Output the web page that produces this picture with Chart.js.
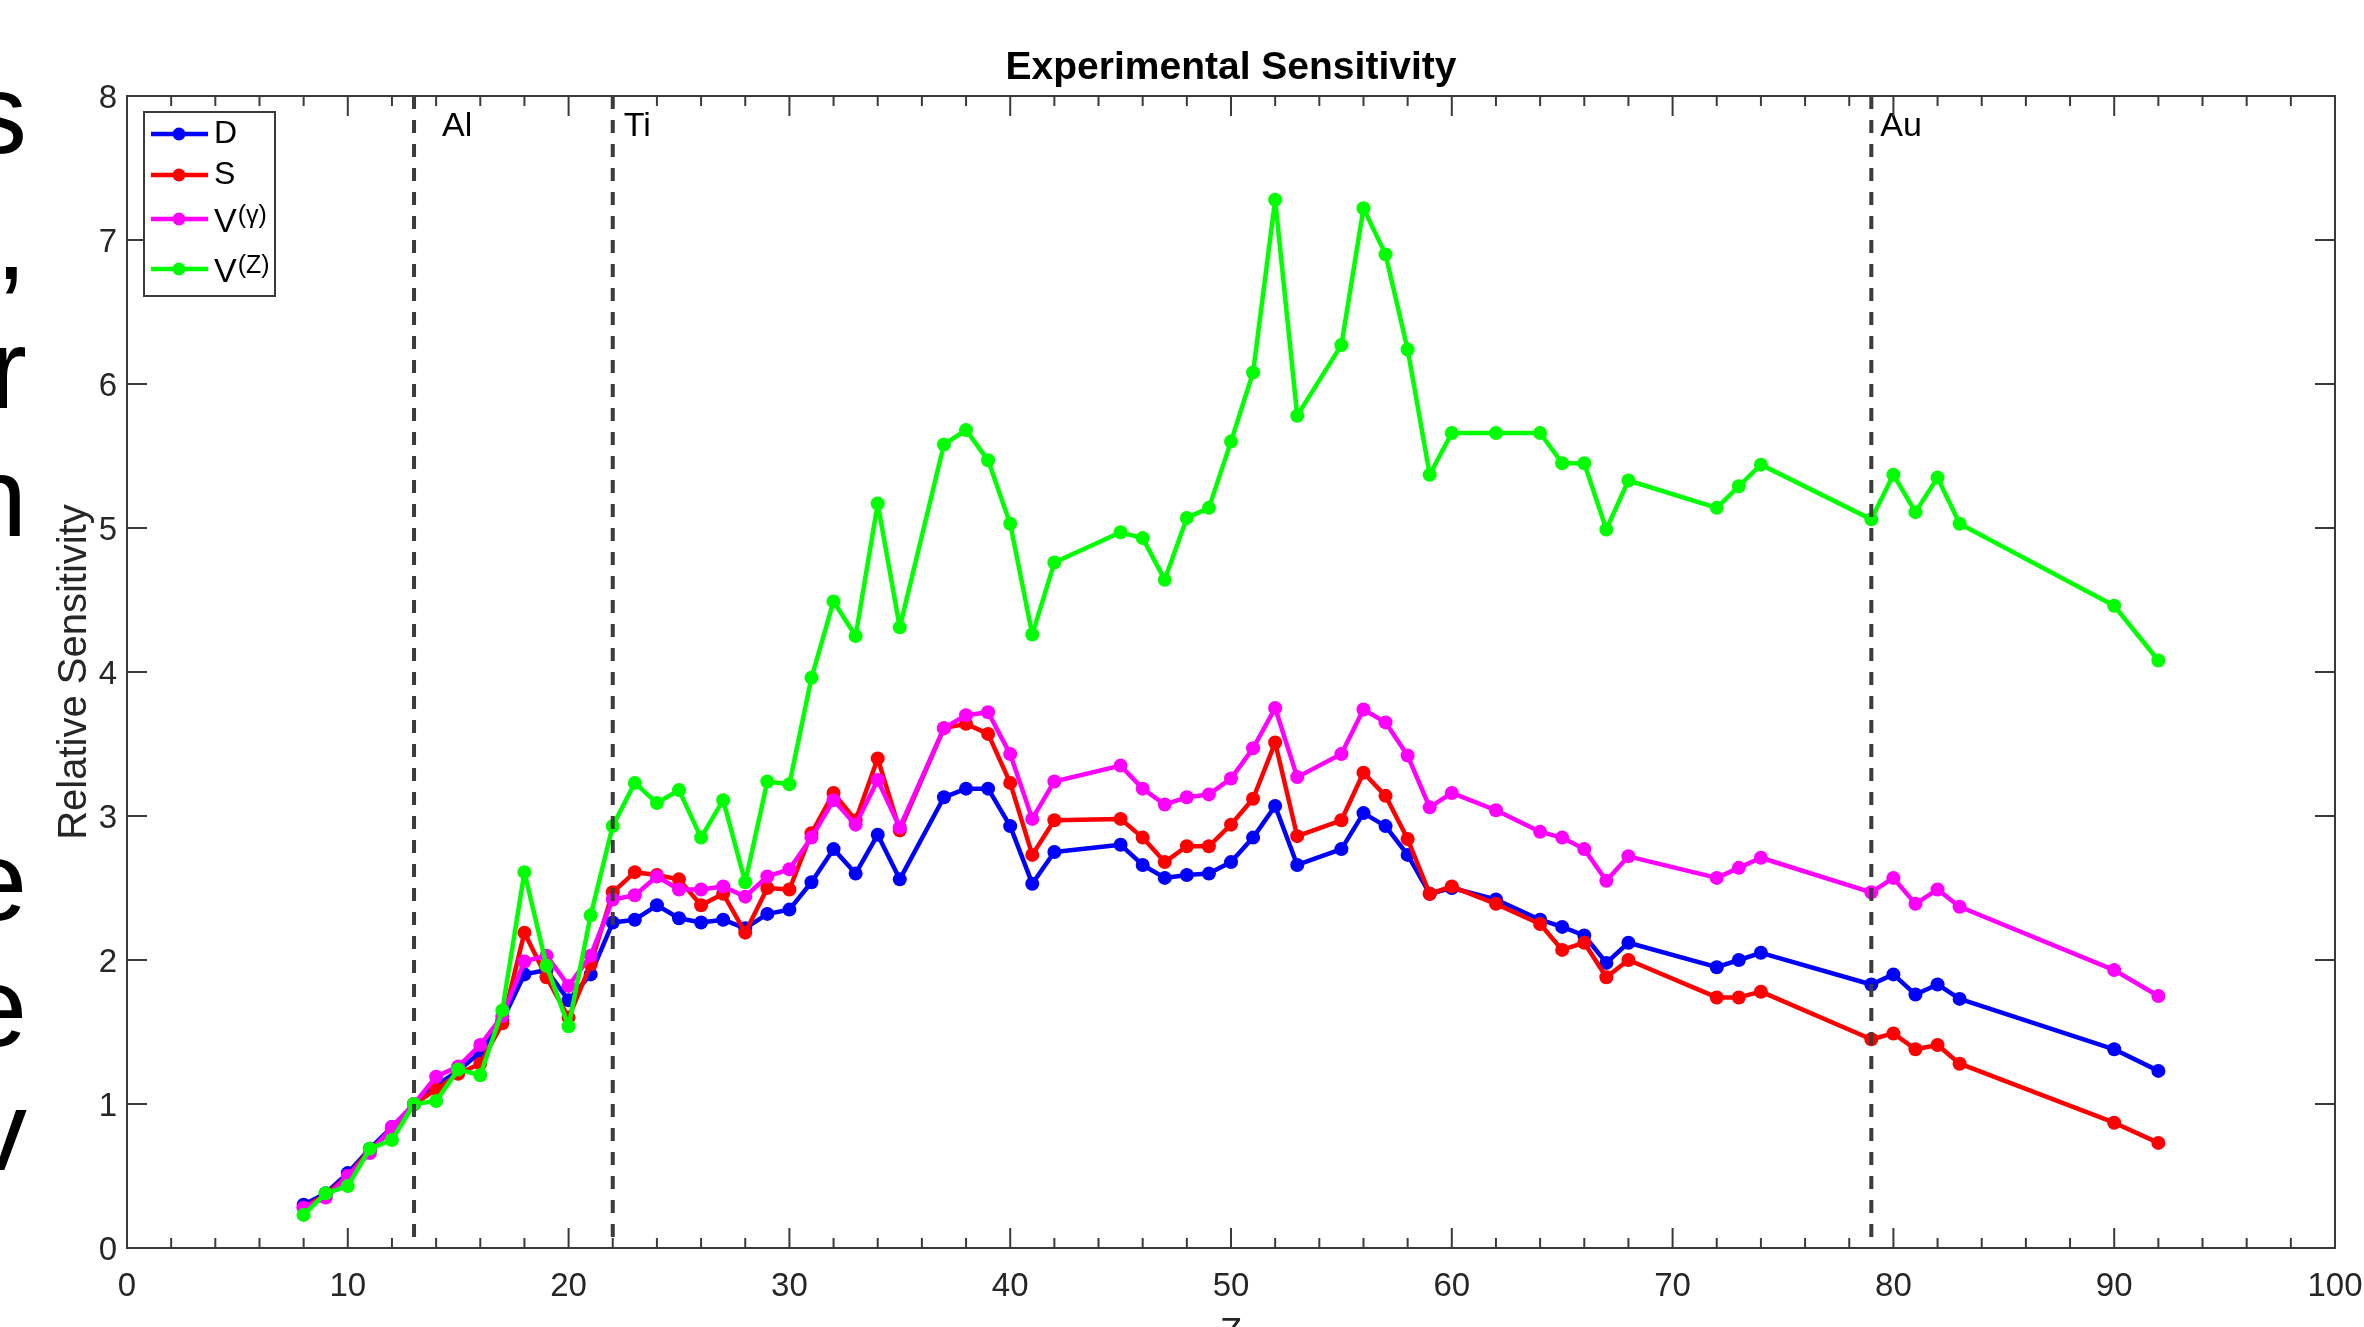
<!DOCTYPE html>
<html>
<head>
<meta charset="utf-8">
<title>Experimental Sensitivity</title>
<script src="https://cdn.jsdelivr.net/npm/chart.js@4.4.1/dist/chart.umd.min.js"></script>
<style>
  html, body { margin: 0; padding: 0; background: #fff; overflow: hidden; }
  #wrap { position: relative; width: 2364px; height: 1327px; overflow: hidden; }
  #chart { position: absolute; left: 0; top: 0; }
  .slide {
    position: absolute;
    right: 2337px;
    font-family: "Liberation Sans", Arial, sans-serif;
    font-size: 113px;
    line-height: 1;
    color: #000;
    white-space: nowrap;
  }
</style>
</head>
<body>
<div id="wrap">
  <canvas id="chart" width="2364" height="1327"></canvas>
  <!-- cut-off slide text on the left edge -->
  <span class="slide" style="top:58px">s</span>
  <span class="slide" style="top:184px">,</span>
  <span class="slide" style="top:313px">r</span>
  <span class="slide" style="top:441px">n</span>
  <span class="slide" style="top:825px">e</span>
  <span class="slide" style="top:951px">e</span>
  <span class="slide" style="top:1075px">v</span>
</div>
<script>
const FONT = '"Liberation Sans", Arial, Helvetica, sans-serif';

// atomic number of each measured element
const zValues = [8, 9, 10, 11, 12, 13, 14, 15, 16, 17, 18, 19, 20, 21, 22, 23, 24, 25, 26, 27, 28, 29, 30,
  31, 32, 33, 34, 35, 37, 38, 39, 40, 41, 42, 45, 46, 47, 48, 49, 50, 51, 52, 53, 55, 56, 57, 58, 59, 60,
  62, 64, 65, 66, 67, 68, 72, 73, 74, 79, 80, 81, 82, 83, 90, 92];

const dSens = [0.30, 0.38, 0.52, 0.69, 0.84, 1.00, 1.13, 1.23, 1.36, 1.58, 1.90, 1.93, 1.72, 1.90, 2.26, 2.28,
  2.38, 2.29, 2.26, 2.28, 2.22, 2.32, 2.35, 2.54, 2.77, 2.60, 2.87, 2.56, 3.13, 3.19, 3.19, 2.93, 2.53, 2.75,
  2.80, 2.66, 2.57, 2.59, 2.60, 2.68, 2.85, 3.07, 2.66, 2.77, 3.02, 2.93, 2.73, 2.46, 2.50, 2.42, 2.28, 2.23,
  2.17, 1.98, 2.12, 1.95, 2.00, 2.05, 1.83, 1.90, 1.76, 1.83, 1.73, 1.38, 1.23];

const sSens = [0.28, 0.37, 0.50, 0.68, 0.82, 1.00, 1.10, 1.21, 1.28, 1.56, 2.19, 1.88, 1.60, 1.97, 2.47, 2.61,
  2.59, 2.56, 2.38, 2.46, 2.19, 2.50, 2.49, 2.88, 3.16, 2.97, 3.40, 2.90, 3.61, 3.64, 3.57, 3.23, 2.73, 2.97,
  2.98, 2.85, 2.68, 2.79, 2.79, 2.94, 3.12, 3.51, 2.86, 2.97, 3.30, 3.14, 2.84, 2.46, 2.51, 2.39, 2.25, 2.07,
  2.12, 1.88, 2.00, 1.74, 1.74, 1.78, 1.45, 1.49, 1.38, 1.41, 1.28, 0.87, 0.73];

const vGammaSens = [0.28, 0.35, 0.50, 0.66, 0.84, 1.00, 1.19, 1.26, 1.41, 1.61, 1.99, 2.03, 1.82, 2.03, 2.42, 2.45,
  2.58, 2.49, 2.49, 2.51, 2.44, 2.58, 2.63, 2.85, 3.11, 2.94, 3.25, 2.92, 3.61, 3.70, 3.72, 3.43, 2.98, 3.24,
  3.35, 3.19, 3.08, 3.13, 3.15, 3.26, 3.47, 3.75, 3.27, 3.43, 3.74, 3.65, 3.42, 3.06, 3.16, 3.04, 2.89, 2.85,
  2.77, 2.55, 2.72, 2.57, 2.64, 2.71, 2.47, 2.57, 2.39, 2.49, 2.37, 1.93, 1.75];

const vZSens = [0.23, 0.38, 0.43, 0.69, 0.75, 1.00, 1.02, 1.24, 1.20, 1.65, 2.61, 1.96, 1.54, 2.31, 2.93, 3.23,
  3.09, 3.18, 2.85, 3.11, 2.54, 3.24, 3.22, 3.96, 4.49, 4.25, 5.17, 4.31, 5.58, 5.68, 5.47, 5.03, 4.26, 4.76,
  4.97, 4.93, 4.64, 5.07, 5.14, 5.60, 6.08, 7.28, 5.78, 6.27, 7.22, 6.90, 6.24, 5.37, 5.66, 5.66, 5.66, 5.45,
  5.45, 4.99, 5.33, 5.14, 5.29, 5.44, 5.06, 5.37, 5.11, 5.35, 5.03, 4.46, 4.08];

const seriesNames = ["D", "S", "V", "V"];
const seriesSup = ["", "", "(\u03b3)", "(Z)"];
const seriesColors = ["#0000ff", "#ff0000", "#ff00ff", "#00ff00"];

// reference elements marked with dashed lines
const markerZ = [13, 22, 79];
const markerNames = ["Al", "Ti", "Au"];

const chartTitle = "Experimental Sensitivity";

const allSeries = [dSens, sSens, vGammaSens, vZSens];

// title over the plot box, dashed element lines, inward ticks and the axes box
const axesBoxPlugin = {
  id: "axesBox",
  afterDatasetsDraw(chart) {
    const { ctx, chartArea: a, scales: { x, y } } = chart;
    const labelShift = [28, 11, 9];
    ctx.save();

    ctx.fillStyle = "#000";
    ctx.font = "bold 39px " + FONT;
    ctx.textAlign = "center";
    ctx.textBaseline = "alphabetic";
    ctx.fillText(chartTitle, (a.left + a.right) / 2, 79);
    ctx.textAlign = "left";

    ctx.strokeStyle = "#3c3c3c";
    ctx.lineWidth = 4;
    ctx.setLineDash([13, 11]);
    ctx.font = "34px " + FONT;
    markerZ.forEach((z, i) => {
      const px = x.getPixelForValue(z);
      ctx.beginPath();
      ctx.moveTo(px, a.top);
      ctx.lineTo(px, a.bottom);
      ctx.stroke();
      ctx.fillText(markerNames[i], px + labelShift[i], a.top + 40);
    });

    ctx.setLineDash([]);
    ctx.strokeStyle = "#3a3a3a";
    ctx.lineWidth = 2;
    const seg = (x1, y1, x2, y2) => {
      ctx.beginPath();
      ctx.moveTo(x1, y1);
      ctx.lineTo(x2, y2);
      ctx.stroke();
    };
    for (let v = x.min; v <= x.max; v += 2) {
      const px = x.getPixelForValue(v);
      const len = v % 10 === 0 ? 20 : 10;
      seg(px, a.bottom, px, a.bottom - len);
      seg(px, a.top, px, a.top + len);
    }
    for (let v = y.min; v <= y.max; v += 1) {
      const py = y.getPixelForValue(v);
      seg(a.left, py, a.left + 20, py);
      seg(a.right, py, a.right - 20, py);
    }
    ctx.strokeRect(a.left, a.top, a.right - a.left, a.bottom - a.top);
    ctx.restore();
  },
};

// MATLAB style legend box with superscripts
const legendPlugin = {
  id: "seriesLegend",
  afterDraw(chart) {
    const { ctx, chartArea: a } = chart;
    const bx = a.left + 17, by = a.top + 16, bw = 131, bh = 184;
    const rows = [22, 63, 107, 157];
    ctx.save();
    ctx.fillStyle = "#fff";
    ctx.fillRect(bx, by, bw, bh);
    ctx.strokeStyle = "#3a3a3a";
    ctx.lineWidth = 2;
    ctx.strokeRect(bx, by, bw, bh);
    ctx.textBaseline = "middle";
    seriesNames.forEach((name, i) => {
      const ly = by + rows[i];
      ctx.strokeStyle = seriesColors[i];
      ctx.fillStyle = seriesColors[i];
      ctx.lineWidth = 4.5;
      ctx.beginPath();
      ctx.moveTo(bx + 7, ly);
      ctx.lineTo(bx + 64, ly);
      ctx.stroke();
      ctx.beginPath();
      ctx.arc(bx + 35, ly, 6.5, 0, Math.PI * 2);
      ctx.fill();
      ctx.fillStyle = "#000";
      const sup = seriesSup[i];
      ctx.font = (sup ? "34px " : "32px ") + FONT;
      ctx.fillText(name, bx + 70, sup ? ly + 4 : ly);
      if (sup) {
        const w = ctx.measureText(name).width;
        ctx.font = "25px " + FONT;
        ctx.fillText(sup, bx + 71 + w, ly - 3);
      }
    });
    ctx.restore();
  },
};

const ctx = document.getElementById("chart").getContext("2d");
const sensChart = new Chart(ctx, {
  type: "line",
  data: {
    datasets: allSeries.map((vals, i) => ({
      label: seriesNames[i] + seriesSup[i],
      data: zValues.map((z, j) => ({ x: z, y: vals[j] })),
      borderColor: seriesColors[i],
      backgroundColor: seriesColors[i],
      borderWidth: 4.5,
      borderJoinStyle: "round",
      pointRadius: 7,
      pointBorderWidth: 0,
      tension: 0,
      order: allSeries.length - i,
    })),
  },
  options: {
    responsive: false,
    animation: false,
    layout: { padding: { left: 0, right: 29, top: 96, bottom: 0 } },
    plugins: {
      legend: { display: false },
      tooltip: { enabled: false },
      title: { display: false },
    },
    scales: {
      x: {
        type: "linear",
        min: 0,
        max: 100,
        afterFit: (s) => {
          s.height = 79;
          s.paddingLeft = 0;
          s.paddingRight = 0;
        },
        grid: { display: false, drawTicks: false },
        border: { display: false },
        ticks: {
          stepSize: 10,
          padding: 19,
          maxRotation: 0,
          color: "#262626",
          font: { family: FONT, size: 33 },
        },
        title: {
          display: true,
          text: "Z",
          color: "#262626",
          font: { family: FONT, size: 36 },
          padding: { top: 0, bottom: -29 },
        },
      },
      y: {
        min: 0,
        max: 8,
        afterFit: (s) => {
          s.width = 127;
          s.paddingTop = 0;
          s.paddingBottom = 0;
        },
        grid: { display: false, drawTicks: false },
        border: { display: false },
        ticks: {
          stepSize: 1,
          padding: 10,
          labelOffset: 3,
          color: "#262626",
          font: { family: FONT, size: 33 },
        },
        title: {
          display: true,
          text: "Relative Sensitivity",
          color: "#262626",
          font: { family: FONT, size: 40 },
          padding: { top: 51, bottom: 0 },
        },
      },
    },
  },
  plugins: [axesBoxPlugin, legendPlugin],
});
</script>
</body>
</html>
